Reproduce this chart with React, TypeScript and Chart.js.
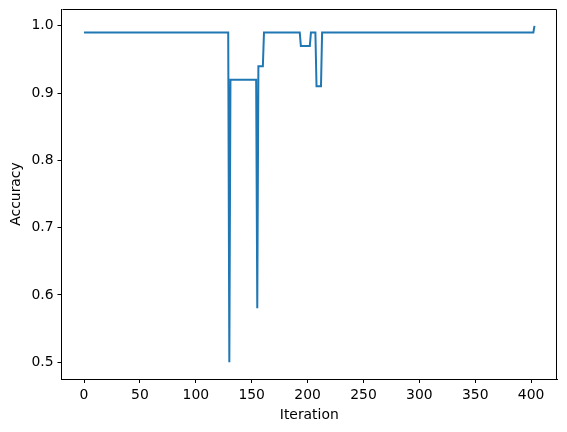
import React, { useEffect, useRef } from "react";
import { Chart, registerables } from "chart.js";

Chart.register(...registerables);

// Iteration at which the accuracy changes (line vertices)
const iterations = [0, 129, 130, 131, 154, 155, 156, 160, 161, 193, 194, 202, 203, 207, 208, 212, 213, 402, 403];
const accuracy = [0.99, 0.99, 0.5, 0.92, 0.92, 0.58, 0.94, 0.94, 0.99, 0.99, 0.97, 0.97, 0.99, 0.99, 0.91, 0.91, 0.99, 0.99, 1.0];
const xTicks = [0, 50, 100, 150, 200, 250, 300, 350, 400];
const yTicks = [0.5, 0.6, 0.7, 0.8, 0.9, 1.0];

const FONT = "'DejaVu Sans', sans-serif";

const framePlugin = {
  id: "frame",
  afterDraw(chart: any) {
    const { ctx, chartArea } = chart;
    const l = Math.round(chartArea.left) + 0.5;
    const t = Math.round(chartArea.top) + 0.5;
    const r = Math.round(chartArea.right) - 0.5;
    const b = Math.round(chartArea.bottom) + 0.5;
    ctx.save();
    ctx.strokeStyle = "#000";
    ctx.lineWidth = 1;
    ctx.beginPath();
    ctx.moveTo(l, t);
    ctx.lineTo(r, t);
    ctx.moveTo(r, t);
    ctx.lineTo(r, b);
    ctx.stroke();
    ctx.restore();
  },
};

export default function App() {
  const ref = useRef<HTMLCanvasElement | null>(null);
  useEffect(() => {
    document.body.style.margin = "0";
    const points = iterations.map((x, i) => ({ x, y: accuracy[i] }));
    const chart = new Chart(ref.current as HTMLCanvasElement, {
      type: "line",
      data: {
        datasets: [
          {
            data: points,
            borderColor: "#1f77b4",
            borderWidth: 2,
            pointRadius: 0,
            tension: 0,
            fill: false,
          },
        ],
      },
      options: {
        animation: false,
        responsive: false,
        devicePixelRatio: 1,
        layout: { padding: { left: 0, top: 9, right: 10, bottom: 0 } },
        plugins: { legend: { display: false }, tooltip: { enabled: false } },
        scales: {
          x: {
            type: "linear",
            min: -20.15,
            max: 423.15,
            afterBuildTicks: (s: any) => {
              s.ticks = xTicks.map((v) => ({ value: v }));
            },
            afterFit: (s: any) => {
              s.height = 53;
              s.paddingLeft = 0;
              s.paddingRight = 0;
            },
            grid: { display: true, drawOnChartArea: false, drawTicks: true, tickLength: 4, color: "#000" },
            border: { display: true, color: "#000" },
            ticks: {
              color: "#000",
              font: { family: FONT, size: 13.9 },
              padding: 4,
              maxRotation: 0,
              callback: (v: any) => String(v),
            },
            title: {
              display: true,
              text: "Iteration",
              color: "#000",
              font: { family: FONT, size: 13.9 },
              padding: { top: 8.7, bottom: 8.7 },
            },
          },
          y: {
            type: "linear",
            min: 0.475,
            max: 1.025,
            afterBuildTicks: (s: any) => {
              s.ticks = yTicks.map((v) => ({ value: v }));
            },
            afterFit: (s: any) => {
              s.width = 61.5;
              s.paddingTop = 0;
              s.paddingBottom = 0;
            },
            grid: { display: true, drawOnChartArea: false, drawTicks: true, tickLength: 4, color: "#000" },
            border: { display: true, color: "#000" },
            ticks: {
              color: "#000",
              font: { family: FONT, size: 13.9 },
              padding: 4,
              callback: (v: any) => Number(v).toFixed(1),
            },
            title: {
              display: true,
              text: "Accuracy",
              color: "#000",
              font: { family: FONT, size: 13.9 },
              padding: { top: 8, bottom: 8 },
            },
          },
        },
      },
      plugins: [framePlugin],
    });
    return () => chart.destroy();
  }, []);
  return (
    <div style={{ width: 567, height: 432, background: "#fff" }}>
      <canvas ref={ref} width={567} height={432} style={{ display: "block" }} />
    </div>
  );
}
